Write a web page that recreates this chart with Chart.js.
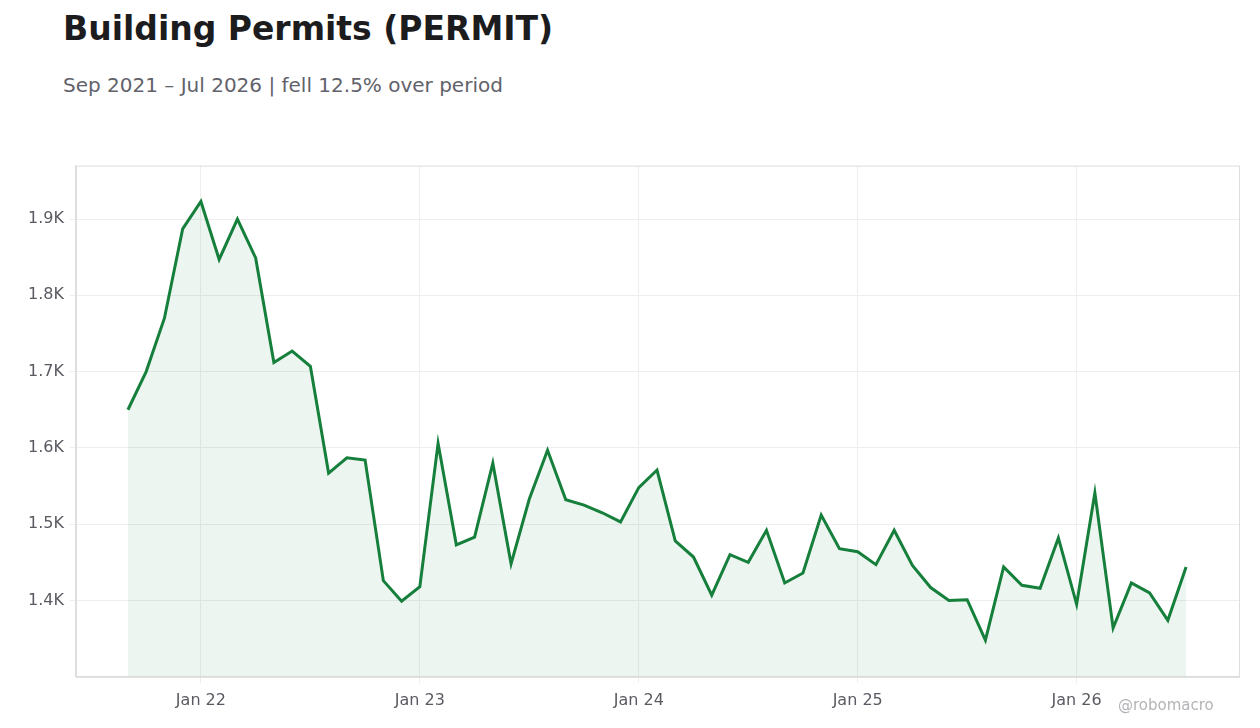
<!DOCTYPE html>
<html><head><meta charset="utf-8">
<script src="https://cdn.jsdelivr.net/npm/chart.js@4/dist/chart.umd.min.js"></script>
<style>
body{margin:0;width:1260px;height:728px;background:#fff;font-family:"DejaVu Sans",sans-serif;position:relative;overflow:hidden}
#t{position:absolute;left:63px;top:9px;font-size:33px;font-weight:bold;color:#1c1c1e}
#s{position:absolute;left:63px;top:73px;font-size:20px;color:#62626a}
#w{position:absolute;left:1118px;top:696px;font-size:15px;color:#b4b4b8}
#c{position:absolute;left:0;top:150px;width:1260px;height:578px}
</style></head><body>
<div id="t">Building Permits (PERMIT)</div>
<div id="s">Sep 2021 – Jul 2026 | fell 12.5% over period</div>
<div id="c"><canvas id="cv"></canvas></div>
<div id="w">@robomacro</div>
<script>
const startLabel = "Sep 2021";
const values = [1650,1700,1770,1887,1923,1847,1900,1849,1712,1727,1707,1567,1587,1584,1426,1399,1418,1606,1473,1483,1580,1448,1533,1597,1532,1525,1515,1503,1548,1571,1478,1457,1407,1460,1450,1492,1423,1436,1512,1468,1464,1447,1492,1446,1417,1400,1401,1348,1444,1420,1416,1482,1395,1541,1364,1423,1410,1374,1444];
const xTickPos = [4,16,28,40,52];
const xTickLabels = ["Jan 22","Jan 23","Jan 24","Jan 25","Jan 26"];
const yTicks = [1400,1500,1600,1700,1800,1900];
const pts = values.map((v,i)=>({x:i,y:v}));
const frame = {id:'frame',afterDraw(c){const a=c.chartArea,x=c.ctx;x.save();x.strokeStyle='#dddddd';x.lineWidth=1;x.strokeRect(a.left+0.5,a.top+0.5,a.right-a.left,a.bottom-a.top);x.restore();}};
new Chart(document.getElementById('cv'),{
 type:'line',
 data:{datasets:[{data:pts,borderColor:'#157f3b',borderWidth:3,backgroundColor:'rgba(21,127,59,0.08)',fill:'origin',pointRadius:0,tension:0}]},
 options:{responsive:true,maintainAspectRatio:false,animation:false,
  layout:{padding:{left:22,right:21,top:9,bottom:10}},
  plugins:{legend:{display:false},tooltip:{enabled:false}},
  scales:{
   x:{type:'linear',min:-2.85,max:60.9,
     afterBuildTicks(s){s.ticks=xTickPos.map(v=>({value:v}));},
     ticks:{autoSkip:false,maxRotation:0,color:'#5a5a62',font:{size:16,family:'DejaVu Sans'},padding:8,callback(v){const i=xTickPos.indexOf(v);return i>=0?xTickLabels[i]:'';}},
     grid:{color:'#eeeeee',drawTicks:true,tickLength:6},border:{color:'#dddddd'}},
   y:{min:1300,max:1970,
     afterBuildTicks(s){s.ticks=yTicks.map(v=>({value:v}));},
     ticks:{color:'#5a5a62',font:{size:16,family:'DejaVu Sans'},padding:6,callback(v){return (v/1000).toFixed(1)+'K';}},
     grid:{color:'#eeeeee',tickLength:6},border:{color:'#dddddd'}}
  }},
 plugins:[frame]
});
</script></body></html>
